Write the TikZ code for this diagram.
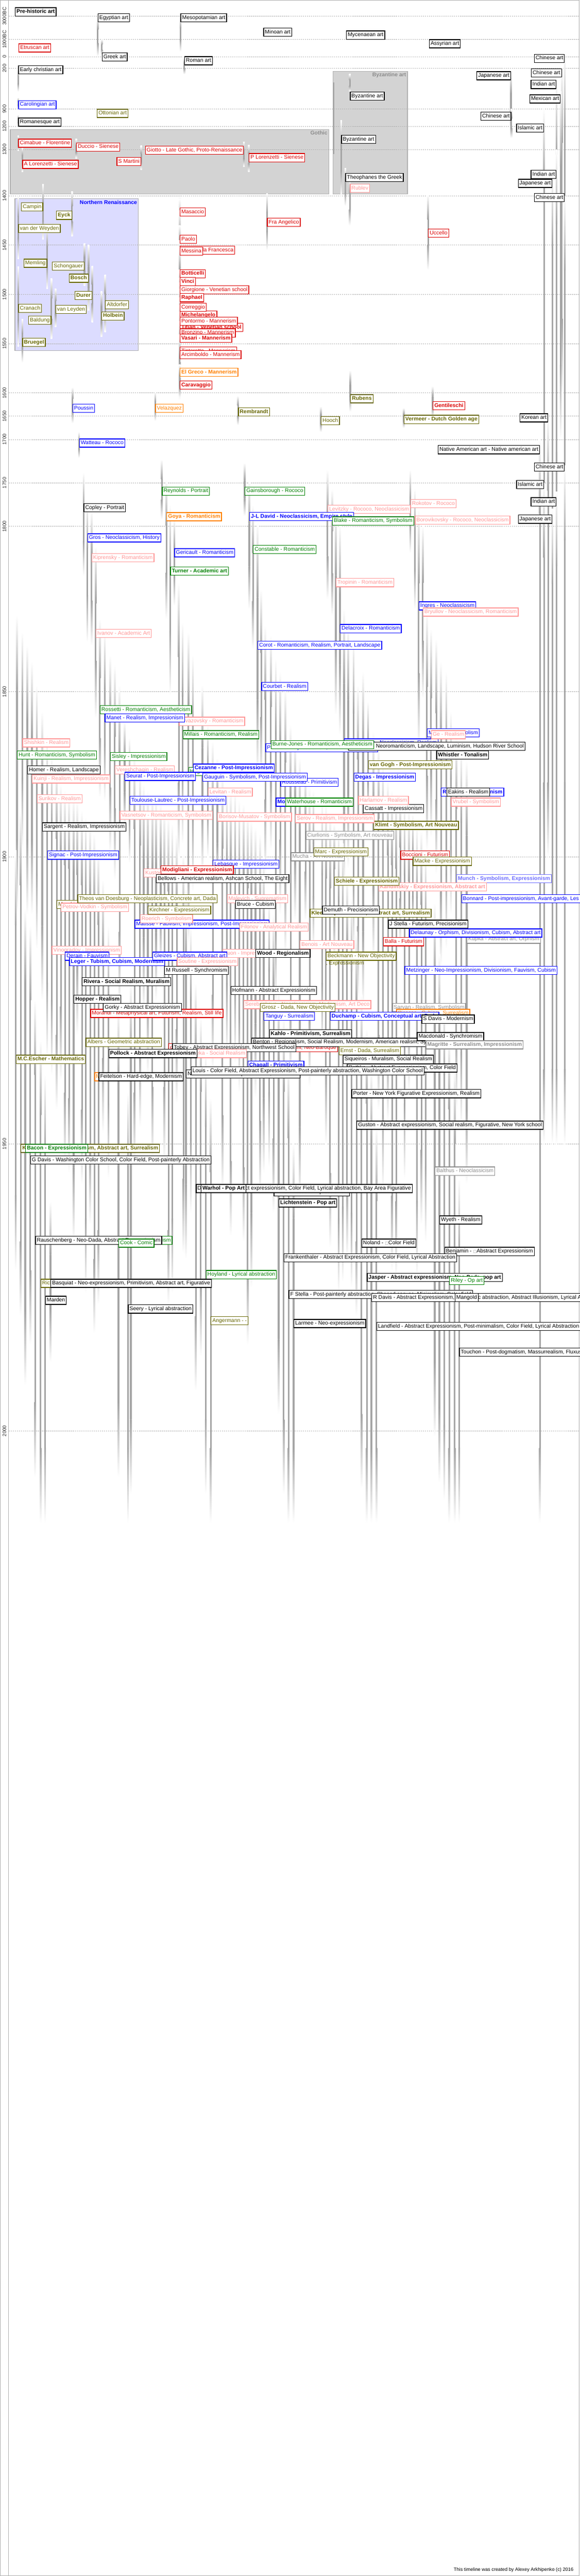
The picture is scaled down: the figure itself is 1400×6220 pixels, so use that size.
\documentclass[tikz,border=0pt]{standalone}
\usepackage{fontspec}
\setmainfont{Liberation Sans}
\newfontfamily\symfont{DejaVu Sans}

\pgfdeclarelayer{periods}
\pgfdeclarelayer{grid}
\pgfdeclarelayer{life}
\pgfsetlayers{periods,grid,life,main}

\definecolor{artRed}{RGB}{220,0,0}
\definecolor{artBlue}{RGB}{0,0,255}
\definecolor{artOlive}{RGB}{102,102,0}
\definecolor{artGreen}{RGB}{0,128,0}
\definecolor{artOrange}{RGB}{255,128,0}
\definecolor{artPink}{RGB}{255,150,150}
\definecolor{artGrey}{RGB}{140,140,140}
\definecolor{artLilac}{RGB}{110,110,255}
\definecolor{lifeGrey}{RGB}{165,165,165}
\definecolor{periodGrey}{RGB}{211,211,211}
\definecolor{periodBlue}{RGB}{220,220,255}
\definecolor{frameGrey}{RGB}{175,175,175}

\newcommand\artfont{\fontsize{13}{13}\selectfont}
\newcommand\yearfont{\fontsize{12}{12}\selectfont}

\tikzset{
  artbox/.style={draw, fill=white, line width=1.6pt, inner xsep=3.2pt, inner ysep=0pt,
    minimum height=20pt, text height=9.5pt, text depth=2.6pt, font=\artfont},
  heavy/.style={font=\artfont\bfseries},
  blackArt/.style={draw=black, text=black},
  blackArtB/.style={blackArt, heavy},
  redArt/.style={draw=artRed, text=artRed},
  redArtB/.style={redArt, heavy},
  blueArt/.style={draw=artBlue, text=artBlue},
  blueArtB/.style={blueArt, heavy},
  oliveArt/.style={draw=artOlive, text=artOlive},
  oliveArtB/.style={oliveArt, heavy},
  greenArt/.style={draw=artGreen, text=artGreen},
  greenArtB/.style={greenArt, heavy},
  orangeArt/.style={draw=artOrange, text=artOrange},
  orangeArtB/.style={orangeArt, heavy},
  pinkArt/.style={draw=artPink, text=artPink},
  pinkArtB/.style={pinkArt, heavy},
  greyArt/.style={draw=artGrey, text=artGrey},
  greyArtB/.style={greyArt, heavy},
  lilacArtB/.style={draw=artLilac, text=artLilac, heavy},
  gridline/.style={frameGrey, line width=1pt, dash pattern=on 3pt off 2pt},
  yearlabel/.style={rotate=90, inner sep=0pt, font=\yearfont, text=black!85},
  period/.style={draw=frameGrey, line width=1.5pt},
  periodlabel/.style={anchor=north east, inner sep=2pt, font=\artfont\bfseries}
}

\begin{document}
\begin{tikzpicture}[x=1pt, y=-1pt,
    declare function={cl(\yy,\lo,\hi)=min(max(\yy,\lo),\hi);
      ty(\yy)=39+0.028*(cl(\yy,-3000,-1000)+3000)+0.042*(cl(\yy,-1000,0)+1000)
        +0.14*cl(\yy,0,1200)+0.56*(cl(\yy,1200,1300)-1200)+1.12*(cl(\yy,1300,1400)-1300)
        +2.38*(cl(\yy,1400,1600)-1400)+1.12*(cl(\yy,1600,1700)-1600)+2.1*(cl(\yy,1700,1800)-1700)
        +7.98*(cl(\yy,1800,1900)-1800)+13.86*(cl(\yy,1900,2100)-1900);}]

\useasboundingbox (0,0) rectangle (1400,6220);

% Frame, axis and periods
\begin{pgfonlayer}{periods}
  \draw[frameGrey, line width=1.5pt] (0.75,0.75) rectangle (1399.25,6219.25);
  \draw[frameGrey, line width=1.5pt] (20.5,0) -- (20.5,6220);
  \draw[period, fill=periodGrey] (25,313) rectangle (794,468);
  \draw[period, fill=periodGrey] (804,172) rectangle (984,468);
  \draw[period, fill=periodBlue] (36,480) rectangle (334,847);
  \draw[lifeGrey, line width=3pt] (806,199) -- (806,372);
  \node[periodlabel, text=artGrey] (gothic) at (793,314) {Gothic};
  \node[periodlabel, text=artGrey] (byzantine) at (983,173) {Byzantine art};
  \node[periodlabel, text=artBlue] (northren) at (333,481) {Northern Renaissance};
\end{pgfonlayer}

% Grid lines and year labels
\begin{pgfonlayer}{grid}
  \foreach \lab/\t in {3000BC/-3000, 1000BC/-1000, 0/0, 200/200, 900/900, 1200/1200,
      1300/1300, 1400/1400, 1450/1450, 1500/1500, 1550/1550, 1600/1600, 1650/1650,
      1700/1700, 1750/1750, 1800/1800, 1850/1850, 1900/1900, 1950/1950, 2000/2000} {
    \pgfmathsetmacro\gy{ty(\t)}
    \draw[gridline] (21,\gy) -- (1399,\gy);
    \node[yearlabel] (yr\t) at (10.5,\gy) {\lab};
  }
\end{pgfonlayer}

% Cultures and artists: box, then life line from birth to death
\foreach \id/\x/\y/\side/\ink/\txt/\born/\died in {
  prehist/36/18/west/blackArtB/{Pre-historic art}/-3000/-3000,
  egypt/236/32/west/blackArt/{Egyptian art}/-3000/-30,
  mesopot/436/32/west/blackArt/{Mesopotamian art}/-3000/-300,
  minoan/636/67/west/blackArt/{Minoan art}/-2000/-2000,
  mycenae/836/74/west/blackArt/{Mycenaean art}/-1600/-1600,
  assyria/1036/95/west/blackArt/{Assyrian art}/-1000/-1000,
  etruscan/45/105/west/redArt/{Etruscan art}/-800/-800,
  greek/246/127/west/blackArt/{Greek art}/-1000/-100,
  roman/445/136/west/blackArt/{Roman art}/0/300,
  chinaA/1364/130/east/blackArt/{Chinese art}/-200/1900,
  earlyx/44/158/west/blackArt/{Early christian art}/200/600,
  chinaB/1357/165/east/blackArt/{Chinese art}/200/1600,
  japanA/1234/172/east/blackArt/{Japanese art}/250/1250,
  indiaA/1344/193/east/blackArt/{Indian art}/400/1800,
  byzA/845/221/west/blackArt/{Byzantine art}/300/600,
  mexico/1354/228/east/blackArt/{Mexican art}/600/1700,
  caroling/44/242/west/blueArt/{Carolingian art}/700/900,
  otton/234/263/west/oliveArt/{Ottonian art}/950/950,
  chinaC/1235/270/east/blackArt/{Chinese art}/900/1250,
  romanesq/44/284/west/blackArt/{Romanesque art}/1000/1200,
  islamA/1314/298/east/blackArt/{Islamic art}/900/1900,
  byzB/824/326/west/blackArt/{Byzantine art}/1100/1400,
  cimabue/44/335/west/redArt/{Cimabue - Florentine}/1240/1302,
  duccio/184/344/west/redArt/{Duccio - Sienese}/1255/1319,
  giotto/589/352/east/redArt/{Giotto - Late Gothic, Proto-Renaissance}/1267/1337,
  plorenz/601/370/west/redArt/{P Lorenzetti - Sienese}/1280/1348,
  smartini/341/379/east/redArt/{S Martini}/1284/1344,
  alorenz/54/386/west/redArt/{A Lorenzetti - Sienese}/1290/1348,
  indiaB/1344/410/east/blackArt/{Indian art}/1300/1950,
  theoph/834/418/west/blackArt/{Theophanes the Greek}/1340/1410,
  japanB/1334/432/east/blackArt/{Japanese art}/1350/1950,
  rublev/845/444/west/pinkArt/{Rublev}/1360/1430,
  chinaD/1364/466/east/blackArt/{Chinese art}/1400/1950,
  campin/104/489/east/oliveArt/{Campin}/1375/1444,
  eyck/174/509/east/oliveArtB/{Eyck}/1390/1441,
  fra/645/526/west/redArt/{Fra Angelico}/1395/1455,
  uccello/1034/552/west/redArt/{Uccello}/1397/1475,
  weyden/44/541/west/oliveArt/{van der Weyden}/1399/1464,
  masaccio/434/501/west/redArt/{Masaccio}/1401/1428,
  paolo/434/567/west/redArt/{Paolo}/1403/1482,
  piero/434/593/west/redArt/{Piero della Francesca}/1415/1492,
  memling/114/625/east/oliveArt/{Memling}/1430/1494,
  messina/434/596/west/redArt/{Messina}/1430/1479,
  botticelli/434/650/west/redArtB/{Botticelli}/1445/1510,
  schongauer/204/632/east/oliveArt/{Schongauer}/1448/1491,
  bosch/214/661/east/oliveArtB/{Bosch}/1450/1516,
  vinci/434/669/west/redArtB/{Vinci}/1452/1519,
  durer/223/703/east/oliveArtB/{Durer}/1471/1528,
  cranach/44/734/west/oliveArt/{Cranach}/1472/1553,
  michelangelo/434/750/west/redArtB/{Michelangelo}/1475/1564,
  giorgione/434/689/west/redArt/{Giorgione - Venetian school}/1477/1510,
  altdorfer/254/725/west/oliveArt/{Altdorfer}/1480/1538,
  raphael/434/708/west/redArtB/{Raphael}/1483/1520,
  baldung/124/762/east/oliveArt/{Baldung}/1484/1545,
  titian/434/780/west/redArtB/{Titian - Venetian school}/1488/1576,
  correggio/434/731/west/redArt/{Correggio}/1489/1534,
  pontormo/434/765/west/redArt/{Pontormo - Mannerism}/1494/1557,
  leyden/134/736/west/oliveArt/{van Leyden}/1494/1533,
  holbein/245/752/west/oliveArtB/{Holbein}/1497/1543,
  bronzino/434/793/west/redArt/{Bronzino - Mannerism}/1503/1572,
  vasari/434/806/west/redArtB/{Vasari - Mannerism}/1511/1574,
  tintoretto/434/837/west/redArt/{Tintoretto - Mannerism}/1518/1594,
  bruegel/54/816/west/oliveArtB/{Bruegel}/1525/1569,
  arcimboldo/434/846/west/redArt/{Arcimboldo - Mannerism}/1527/1593,
  elgreco/434/888/west/orangeArtB/{El Greco - Mannerism}/1541/1614,
  caravaggio/434/919/west/redArtB/{Caravaggio}/1571/1610,
  rubens/846/952/west/oliveArtB/{Rubens}/1577/1640,
  gentileschi/1045/969/west/redArtB/{Gentileschi}/1593/1653,
  poussin/175/975/west/blueArt/{Poussin}/1594/1665,
  velazquez/375/975/west/orangeArt/{Velazquez}/1599/1660,
  rembrandt/575/984/west/oliveArtB/{Rembrandt}/1606/1669,
  hooch/775/1005/west/oliveArt/{Hooch}/1629/1684,
  vermeer/975/1002/west/oliveArtB/{Vermeer - Dutch Golden age}/1632/1675,
  korean/1324/998/east/blackArt/{Korean art}/1650/1900,
  watteau/191/1059/west/blueArt/{Watteau - Rococo}/1684/1721,
  nativeam/1304/1075/east/blackArt/{Native American art - Native american art}/1700/2016,
  chinaE/1364/1117/east/blackArt/{Chinese art}/1730/1950,
  islamB/1314/1159/east/blackArt/{Islamic art}/1750/1950,
  indiaC/1344/1201/east/blackArt/{Indian art}/1760/1950,
  japanC/1334/1243/east/blackArt/{Japanese art}/1780/1950,
  reynolds/391/1175/west/greenArt/{Reynolds - Portrait}/1723/1792,
  gainsborough/591/1175/west/greenArt/{Gainsborough - Rococo}/1727/1788,
  levitzky/791/1219/west/pinkArt/{Levitzky - Rococo, Neoclassicism}/1735/1822,
  rokotov/991/1205/west/pinkArt/{Rokotov - Rococo}/1735/1808,
  copley/202/1215/west/blackArt/{Copley - Portrait}/1738/1815,
  goya/402/1237/west/orangeArtB/{Goya - Romanticism}/1746/1828,
  david/602/1236/west/blueArtB/{J-L David - Neoclassicism, Empire style}/1748/1825,
  blake/802/1247/west/greenArt/{Blake - Romanticism, Symbolism}/1757/1827,
  borovik/1002/1245/west/pinkArt/{Borovikovsky - Rococo, Neoclassicism}/1757/1825,
  gros/211/1288/west/blueArt/{Gros - Neoclassicism, History}/1771/1835,
  turner/411/1368/west/greenArtB/{Turner - Academic art}/1775/1851,
  constable/611/1316/west/greenArt/{Constable - Romanticism}/1776/1837,
  tropinin/811/1396/west/pinkArt/{Tropinin - Romanticism}/1776/1857,
  ingres/1011/1452/west/blueArt/{Ingres - Neoclassicism}/1780/1867,
  kiprensky/221/1336/west/pinkArt/{Kiprensky - Romanticism}/1782/1836,
  gericault/421/1324/west/blueArt/{Gericault - Romanticism}/1791/1824,
  corot/622/1547/west/blueArt/{Corot - Romanticism, Realism, Portrait, Landscape}/1796/1875,
  delacroix/821/1507/west/blueArt/{Delacroix - Romanticism}/1798/1863,
  bryullov/1021/1467/west/pinkArt/{Bryullov - Neoclassicism, Romanticism}/1799/1852,
  ivanov/231/1519/west/pinkArt/{Ivanov - Academic Art}/1806/1858,
  aivazovsky/432/1731/west/pinkArt/{Aivazovsky - Romanticism}/1817/1900,
  courbet/631/1647/west/blueArt/{Courbet - Realism}/1819/1877,
  bouguereau/831/1783/west/blueArt/{Bouguereau - Neoclassicism, Realism}/1825/1905,
  moreau/1031/1759/west/blueArt/{Moreau - Symbolism}/1826/1898,
  hunt/41/1812/west/greenArt/{Hunt - Romanticism, Symbolism}/1827/1910,
  rossetti/241/1703/west/greenArt/{Rossetti - Romanticism, Aestheticism}/1828/1882,
  millais/441/1763/west/greenArt/{Millais - Romanticism, Realism}/1829/1896,
  pissarro/641/1795/west/blueArt/{Pissarro - Impressionism, Post-Impressionism}/1830/1903,
  bierstadt/841/1791/west/blackArt/{Bierstadt - Neoromanticism, Landscape, Luminism, Hudson River School}/1830/1902,
  ge/1041/1763/west/pinkArt/{Ge - Realism}/1831/1894,
  manet/253/1723/west/blueArt/{Manet - Realism, Impressionism}/1832/1883,
  shishkin/54/1783/west/pinkArt/{Shishkin - Realism}/1832/1898,
  hughes/455/1852/west/greenArt/{Hughes - Romanticism}/1832/1915,
  burnejones/654/1787/west/greenArt/{Burne-Jones - Romanticism, Aestheticism}/1833/1898,
  whistler/1054/1812/west/blackArtB/{Whistler - Tonalism}/1834/1903,
  degas/854/1866/west/blueArtB/{Degas - Impressionism}/1834/1917,
  homer/66/1848/west/blackArt/{Homer - Realism, Landscape}/1836/1910,
  cezanne/466/1844/west/blueArtB/{Cezanne - Post-Impressionism}/1839/1906,
  sisley/266/1816/west/greenArt/{Sisley - Impressionism}/1839/1899,
  monet/666/1926/west/blueArtB/{Monet - Impressionism}/1840/1926,
  renoir/1065/1902/west/blueArtB/{Renoir - Impressionism}/1841/1919,
  kuinji/77/1870/west/pinkArt/{Kuinji - Realism, Impressionism}/1841/1910,
  vereshchagin/277/1848/west/pinkArt/{Vereshchagin - Realism}/1842/1904,
  rousseau/677/1878/west/blueArt/{Rousseau - Primitivism}/1844/1910,
  eakins/1078/1902/west/blackArt/{Eakins - Realism}/1844/1916,
  cassatt/877/1942/west/blackArt/{Cassatt - Impressionism}/1844/1926,
  gauguin/489/1866/west/blueArt/{Gauguin - Symbolism, Post-Impressionism}/1848/1903,
  surikov/89/1918/west/pinkArt/{Surikov - Realism}/1848/1916,
  vasnetsov/289/1958/west/pinkArt/{Vasnetsov - Romanticism, Symbolism}/1848/1926,
  harlamov/865/1922/west/pinkArt/{Harlamov - Realism}/1848/1925,
  waterhouse/689/1926/west/greenArt/{Waterhouse - Romanticism}/1849/1917,
  vangogh/889/1836/west/oliveArtB/{van Gogh - Post-Impressionism}/1853/1890,
  sargent/102/1986/west/blackArt/{Sargent - Realism, Impressionism}/1856/1925,
  vrubel/1089/1926/west/pinkArt/{Vrubel - Symbolism}/1856/1910,
  seurat/301/1864/west/blueArt/{Seurat - Post-Impressionism}/1859/1891,
  levitan/502/1902/west/pinkArt/{Levitan - Realism}/1860/1900,
  mucha/702/2058/west/greyArt/{Mucha - Art Nouveau}/1860/1939,
  klimt/902/1982/west/oliveArtB/{Klimt - Symbolism, Art Nouveau}/1862/1918,
  signac/114/2054/west/blueArt/{Signac - Post-Impressionism}/1863/1935,
  munch/1102/2111/west/lilacArtB/{Munch - Symbolism, Expressionism}/1863/1944,
  lautrec/313/1922/west/blueArt/{Toulouse-Lautrec - Post-Impressionism}/1864/1901,
  serov/713/1966/west/pinkArt/{Serov - Realism, Impressionism}/1865/1911,
  lebasque/514/2076/west/blueArt/{Lebasque - Impressionism}/1865/1937,
  kandinskiy/914/2131/west/pinkArtB/{Kandinskiy - Expressionism, Abstract art}/1866/1944,
  bonnard/1114/2159/west/blueArt/{Bonnard - Post-impressionism, Avant-garde, Les Nabis}/1867/1947,
  matisse/325/2221/west/blueArt/{Matisse - Fauvism, Impressionism, Post-Impressionism}/1869/1954,
  vinogradov/125/2284/west/pinkArt/{Vinogradov - Impressionism}/1869/1938,
  borisov/525/1962/west/pinkArt/{Borisov-Musatov - Symbolism}/1870/1905,
  benois/724/2270/west/pinkArt/{Benois - Art Nouveau}/1870/1960,
  kupka/1127/2257/west/greyArt/{Kupka - Abstract art, Orphism}/1871/1957,
  balla/925/2263/west/redArt/{Balla - Futurism}/1871/1958,
  mondrian/137/2173/west/oliveArt/{Mondrian - Neoplasticism}/1872/1944,
  roerich/338/2208/west/pinkArt/{Roerich - Symbolism}/1874/1947,
  ciurlionis/738/2006/west/greyArt/{Ciurlionis - Symbolism, Art nouveau}/1875/1911,
  yuon/537/2291/west/pinkArt/{Yuon - Impressionism}/1875/1958,
  jstella/937/2221/west/blackArt/{J Stella - Futurism, Precisionism}/1877/1946,
  kustodiev/347/2097/west/pinkArt/{Kustodiev - Realism}/1878/1927,
  petrov/147/2180/west/pinkArt/{Petrov-Vodkin - Symbolism}/1878/1939,
  malevich/548/2159/west/pinkArt/{Malevich - Suprematism}/1879/1935,
  klee/748/2194/west/oliveArtB/{Klee - Expressionism, Abstract art, Surrealism}/1879/1940,
  marc/757/2046/west/oliveArt/{Marc - Expressionism}/1880/1916,
  derain/157/2298/west/blueArt/{Derain - Fauvism}/1880/1954,
  bruce/568/2173/west/blackArt/{Bruce - Cubism}/1880/1936,
  kirchner/357/2187/west/oliveArt/{Kirchner - Expressionism}/1880/1938,
  hofmann/557/2381/west/blackArt/{Hofmann - Abstract Expressionism}/1880/1966,
  saryan/947/2422/west/greyArt/{Saryan - Realism, Symbolism}/1880/1972,
  leger/167/2311/west/blueArtB/{Leger - Tubism, Cubism, Modernism}/1881/1955,
  gleizes/368/2298/west/blueArt/{Gleizes - Cubism, Abstract art}/1881/1953,
  picasso/957/2436/west/orangeArt/{Picasso - Cubism, Surrealism}/1881/1973,
  boccioni/967/2054/west/redArt/{Boccioni - Futurism}/1882/1916,
  bellows/377/2111/west/blackArt/{Bellows - American realism, Ashcan School, The Eight}/1882/1925,
  hopper/178/2402/west/blackArtB/{Hopper - Realism}/1882/1967,
  doesburg/187/2159/west/oliveArt/{Theos van Doesburg - Neoplasticism, Concrete art, Dada}/1883/1931,
  demuth/778/2187/west/blackArt/{Demuth - Precisionism}/1883/1935,
  filonov/578/2228/west/pinkArt/{Filonov - Analytical Realism}/1883/1941,
  metzinger/977/2332/west/blueArt/{Metzinger - Neo-Impressionism, Divisionism, Fauvism, Cubism}/1883/1956,
  modigliani/388/2090/west/redArtB/{Modigliani - Expressionism}/1884/1920,
  beckmann/787/2298/west/oliveArt/{Beckmann - New Objectivity}/1884/1950,
  serebriakova/588/2415/west/pinkArt/{Serebriakova - Neoclassicism, Modernism, Art Deco}/1884/1967,
  delaunay/988/2242/west/blueArt/{Delaunay - Orphism, Divisionism, Cubism, Abstract art}/1885/1941,
  russell/397/2332/west/blackArt/{M Russell - Synchromism}/1886/1953,
  rivera/198/2360/west/blackArtB/{Rivera - Social Realism, Muralism}/1886/1957,
  kokoschka/50/2762/west/oliveArtB/{Kokoschka - Expressionism, Abstract art, Surrealism}/1886/1980,
  macke/997/2069/west/oliveArt/{Macke - Expressionism}/1887/1914,
  duchamp/797/2443/west/blueArtB/{Duchamp - Cubism, Conceptual art, Dada}/1887/1968,
  chagall/598/2561/west/blueArtB/{Chagall - Primitivism}/1887/1985,
  albers/207/2506/west/oliveArt/{Albers - Geometric abstraction}/1888/1976,
  dechirico/407/2519/west/redArt/{de Chirico - Metaphysical art, Surrealism, Romanticism, Neo-Baroque}/1888/1978,
  benton/607/2506/west/blackArt/{Benton - Regionalism, Social Realism, Modernism, American realism, Synchromism}/1889/1975,
  schiele/807/2117/west/oliveArtB/{Schiele - Expressionism}/1890/1918,
  morandi/218/2436/west/redArt/{Morandi - Metaphysical art, Futurism, Realism, Still life}/1890/1964,
  tobey/416/2519/west/blackArt/{Tobey - Abstract Expressionism, Northwest School}/1890/1976,
  macdonald/1007/2492/west/blackArt/{Macdonald - Synchromism}/1890/1973,
  wood/617/2291/west/blackArtB/{Wood - Regionalism}/1891/1942,
  ernst/818/2526/west/oliveArt/{Ernst - Dada, Surrealism}/1891/1976,
  sdavis/1018/2450/west/blackArt/{S Davis - Modernism}/1892/1964,
  soutine/427/2311/west/pinkArt/{Soutine - Expressionism}/1893/1943,
  grosz/628/2422/west/oliveArt/{Grosz - Dada, New Objectivity}/1893/1959,
  miro/228/2589/west/orangeArt/{Miro - Surrealism}/1893/1983,
  siqueiros/828/2547/west/blackArt/{Siqueiros - Muralism, Social Realism}/1896/1974,
  magritte/1028/2512/west/greyArtB/{Magritte - Surrealism, Impressionism}/1898/1967,
  escher/38/2547/west/oliveArtB/{M.C.Escher - Mathematics}/1898/1972,
  feitelson/238/2589/west/blackArt/{Feitelson - Hard-edge, Modernism}/1898/1978,
  deineka/443/2533/west/pinkArt/{Deineka - Social Realism}/1899/1969,
  tanguy/637/2443/west/blueArt/{Tanguy - Surrealism}/1900/1955,
  rothko/838/2568/west/blackArt/{Rothko - Abstract Expressionism, Color Field}/1903/1970,
  gorky/249/2422/west/blackArt/{Gorky - Abstract Expressionism}/1904/1948,
  newman/449/2582/west/blackArt/{Newman - Abstract Expressionism, Color Field}/1905/1970,
  kahlo/650/2485/west/blackArtB/{Kahlo - Primitivism, Surrealism}/1907/1954,
  porter/849/2630/west/blackArt/{Porter - New York Figurative Expressionism, Realism}/1907/1975,
  balthus/1050/2817/west/greyArt/{Balthus - Neoclassicism}/1908/2001,
  bacon/61/2762/west/greenArtB/{Bacon - Expressionism}/1909/1992,
  kline/661/2867/west/blackArt/{Kline - Abstract Expressionism}/1910/1962,
  pollock/262/2533/west/blackArtB/{Pollock - Abstract Expressionism}/1912/1956,
  louis/461/2575/west/blackArt/{Louis - Color Field, Abstract Expressionism, Post-painterly abstraction, Washington Color School}/1912/1962,
  gdavis/73/2790/west/blackArt/{G Davis - Washington Color School, Color Field, Post-painterly Abstraction}/1912/1985,
  guston/861/2706/west/blackArt/{Guston - Abstract expressionism, Social realism, Figurative, New York school}/1913/1980,
  wyeth/1061/2935/west/blackArt/{Wyeth - Realism}/1917/2009,
  freud/316/2984/west/greenArt/{Freud - Realism}/1922/2011,
  diebenkorn/473/2859/west/blackArt/{Diebenkorn - Abstract expressionism, Color Field, Lyrical abstraction, Bay Area Figurative}/1922/1993,
  lichtenstein/673/2894/west/blackArtB/{Lichtenstein - Pop art}/1923/1997,
  noland/873/2991/west/blackArt/{Noland - {\symfont\fontsize{9}{9}\selectfont\textcolor{artGrey}{□}}Color Field}/1924/2010,
  rauschenberg/85/2984/west/blackArt/{Rauschenberg - Neo-Dada, Abstract Expressionism}/1925/2008,
  benjamin/1073/3011/west/blackArt/{Benjamin - {\symfont\fontsize{9}{9}\selectfont\textcolor{artGrey}{□}}Abstract Expressionism}/1925/2012,
  cook/286/2991/west/greenArt/{Cook - Comic}/1926/2008,
  warhol/485/2859/west/blackArtB/{Warhol - Pop Art}/1928/1987,
  frankenthaler/685/3026/west/blackArt/{Frankenthaler - Abstract Expressionism, Color Field, Lyrical Abstraction}/1928/2011,
  jasper/886/3074/west/blackArtB/{Jasper - Abstract expressionism, Neo-Dada, pop art}/1930/2016,
  riley/1085/3081/west/greenArt/{Riley - Op art}/1931/2016,
  richter/98/3088/west/oliveArt/{Richter - Abstract art}/1932/2016,
  hoyland/497/3067/west/greenArt/{Hoyland - Lyrical abstraction}/1934/2011,
  fstella/697/3115/west/blackArt/{F Stella - Post-painterly abstraction, Shaped canvas, Minimalism, Color field}/1936/2016,
  rdavis/897/3122/west/blackArt/{R Davis - Abstract Expressionism, Geometric abstraction, Abstract Illusionism, Lyrical Abstraction}/1937/2016,
  mangold/1098/3122/west/blackArt/{Mangold}/1937/2016,
  marden/109/3129/west/blackArt/{Marden}/1938/2016,
  seery/309/3150/west/blackArt/{Seery - Lyrical abstraction}/1941/2016,
  angermann/509/3178/west/oliveArt/{Angermann - -}/1942/2016,
  landfield/909/3192/west/blackArt/{Landfield - Abstract Expressionism, Post-minimalism, Color Field, Lyrical Abstraction}/1947/2016,
  larmee/709/3185/west/blackArt/{Larmee - Neo-expressionism}/1950/2016,
  touchon/1109/3254/west/blackArt/{Touchon - Post-dogmatism, Massurrealism, Fluxus}/1956/2016,
  basquiat/122/3088/west/blackArt/{Basquiat - Neo-expressionism, Primitivism, Abstract art, Figurative}/1960/1988%
}{
  \node[artbox, \ink, anchor=north \side] (\id) at (\x,\y) {\txt};
  \pgfmathsetmacro\ya{ty(\born)}
  \pgfmathsetmacro\yb{ty(\died)}
  \pgfmathsetmacro\fade{min(180,(\yb-\ya)/3)}
  \ifdim\fade pt>0.5pt
    \begin{pgfonlayer}{life}
      \shade[top color=white, bottom color=lifeGrey] (\x-2,\ya) rectangle (\x+2,\ya+\fade);
      \fill[lifeGrey] (\x-2,\ya+\fade) rectangle (\x+2,\yb-\fade);
      \shade[top color=lifeGrey, bottom color=white] (\x-2,\yb-\fade) rectangle (\x+2,\yb);
    \end{pgfonlayer}
  \fi
}

% Text running out of its box
\node[anchor=north west, inner sep=0pt, text height=9.5pt, text depth=2.6pt,
  font=\artfont, text=artOlive] (beckmannmore) at (beckmann.south west) {, Expressionism};

% Credit
\node[anchor=east, inner sep=0pt, font=\fontsize{11.5}{11.5}\selectfont] (credit) at (1385,6205)
  {This timeline was created by Alexey Arkhipenko (c) 2016};

\end{tikzpicture}
\end{document}
